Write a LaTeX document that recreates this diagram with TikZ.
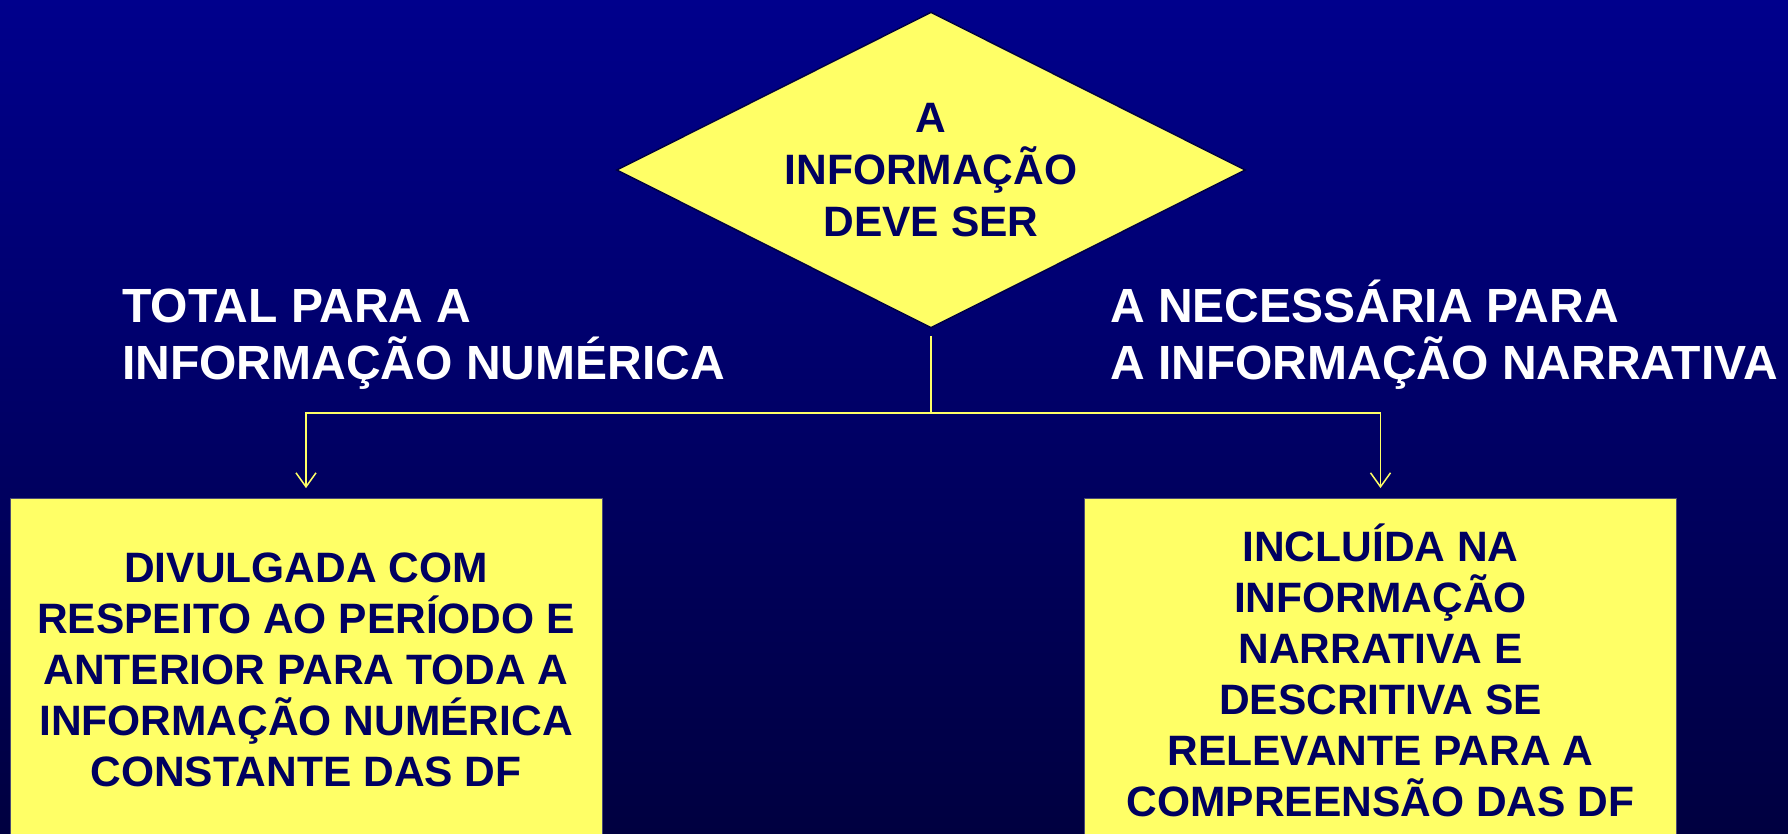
\documentclass[tikz,border=0pt]{standalone}
\usepackage{fontspec}
\setmainfont{Liberation Sans}
\usetikzlibrary{shapes.geometric,arrows.meta}
\definecolor{bgtop}{RGB}{0,0,140}
\definecolor{bgbot}{RGB}{0,0,64}
\definecolor{pale}{RGB}{255,255,102}
\definecolor{ink}{RGB}{0,0,96}

\tikzset{
  decision/.style={diamond, aspect=2, fill=pale, draw=ink!70!black, line width=1.5pt,
    minimum width=629pt, minimum height=316pt, inner sep=0pt, text=ink, align=center,
    font=\bfseries\fontsize{42.5}{52}\selectfont},
  result/.style={rectangle, fill=pale, draw=ink!40!gray, line width=0.8pt,
    minimum width=592pt, minimum height=343pt, text=ink, align=center,
    font=\bfseries\fontsize{42.5}{51}\selectfont},
  branch/.style={text=white, align=left, inner sep=0pt,
    font=\bfseries\fontsize{48}{57}\selectfont},
  link/.style={draw=pale, line width=1.5pt},
}

\begin{document}
\begin{tikzpicture}[x=1pt,y=-1pt]
    % background
    \useasboundingbox (0,0) rectangle (1788,833);
    \shade[top color=bgtop, bottom color=bgbot] (0,0) rectangle (1788,833);

    % question and the two answers
    \node[decision] (question) at (931,170) {A\\INFORMAÇÃO\\DEVE SER};
    \node[branch, anchor=base west] (total) at (122,379) {TOTAL PARA A\\INFORMAÇÃO NUMÉRICA};
    \node[branch, anchor=base west] (necessaria) at (1110,379) {A NECESSÁRIA PARA\\A INFORMAÇÃO NARRATIVA};

    \node[result] (numerica) at (306,670) {DIVULGADA COM\\RESPEITO AO PERÍODO E\\ANTERIOR PARA TODA A\\INFORMAÇÃO NUMÉRICA\\CONSTANTE DAS DF};
    \node[result] (narrativa) at (1380.5,670) {INCLUÍDA NA\\INFORMAÇÃO\\NARRATIVA E\\DESCRITIVA SE\\RELEVANTE PARA A\\COMPREENSÃO DAS DF};

    % connectors
    \coordinate (split) at (931,413);
    \draw[link] ([yshift=-7pt]question.south) -- (split);
    \draw[link,-{Straight Barb[length=14pt,width=20pt]}] (split) -| ([yshift=10pt]numerica.north);
    \draw[link,-{Straight Barb[length=14pt,width=20pt]}] (split) -| ([yshift=10pt]narrativa.north);
\end{tikzpicture}
\end{document}
